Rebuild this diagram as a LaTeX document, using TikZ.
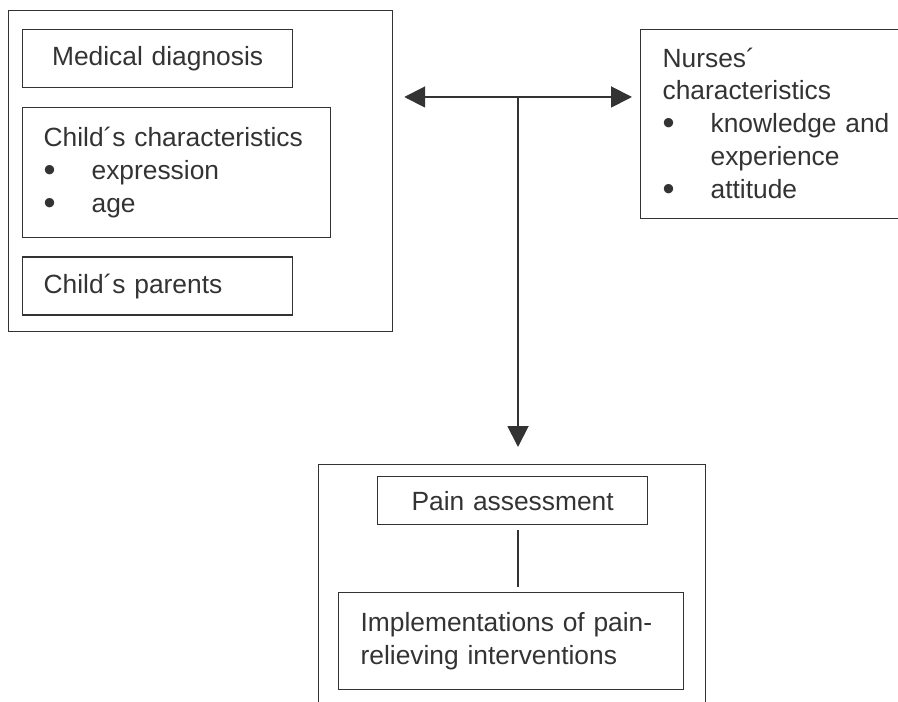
\documentclass[tikz,border=0pt]{standalone}
\usepackage{fontspec}
\setmainfont{Liberation Sans}
\usetikzlibrary{positioning,arrows.meta}
\definecolor{ink}{rgb}{0.2,0.2,0.2}
\newcommand{\bitem}[1]{\makebox[0.96cm][l]{\raisebox{-0.08em}{\scalebox{1.3}{•}}}#1}

\begin{document}
\begin{tikzpicture}[
  group/.style = {
    draw = ink,
    line width = 0.7pt,
    rectangle,
    anchor = north west,
    inner sep = 0pt,
  },
  item/.style = {
    draw = ink,
    line width = 0.7pt,
    rectangle,
    anchor = north west,
    inner xsep = 0.42cm,
    inner ysep = 0.1cm,
    text = ink,
    font = \fontsize{15}{18.7}\selectfont,
    align = left,
  },
  citem/.style = {
    item,
    align = center,
  },
  link/.style = {
    draw = ink,
    fill = ink,
    line width = 1.1pt,
  },
  >={Triangle[length=0.42cm,width=0.42cm]},
]

  \clip (0,0) rectangle (17.96,-14.04);

  \node[group, minimum width=7.68cm, minimum height=6.42cm] (factors) at (0.16,-0.20) {};
  \node[citem, text width=4.56cm, minimum height=1.16cm] (diag) [below right=0.38cm and 0.28cm of factors.north west] {Medical diagnosis};
  \node[item, text width=5.32cm, minimum height=2.60cm] (child) [below right=0.38cm and 0cm of diag.south west] {Child´s characteristics\\ \bitem{expression}\\ \bitem{age}};
  \node[item, text width=4.56cm, minimum height=1.16cm] (parents) [below right=0.36cm and 0cm of child.south west] {Child´s parents};

  \node[item, text width=4.8cm, minimum height=3.78cm, inner xsep=0.44cm] (nurses) at (12.80,-0.58) {Nurses´\\ characteristics\\ \bitem{knowledge and}\\ \hspace*{0.96cm}experience\\ \bitem{attitude}};

  \node[group, minimum width=7.74cm, minimum height=6cm] (outcome) at (6.36,-9.28) {};
  \node[citem, text width=4.56cm, minimum height=0.96cm] (assess) [below right=0.24cm and 1.18cm of outcome.north west] {Pain assessment};
  \node[item, text width=6.02cm, minimum height=1.94cm, inner xsep=0.44cm] (relief) [below right=2.56cm and 0.40cm of outcome.north west] {Implementations of pain-\\ relieving interventions};

  \coordinate (hub) at (10.36,-1.94);

  \draw[link, <->, shorten <=0.22cm, shorten >=0.16cm] (factors.east |- hub) -- (nurses.west |- hub);
  \draw[link, ->, shorten >=0.34cm] (hub) -- (outcome.north -| hub);
  \draw[link, line width=0.7pt, shorten <=0.1cm, shorten >=0.1cm] (assess.south -| hub) -- (relief.north -| hub);

\end{tikzpicture}
\end{document}
